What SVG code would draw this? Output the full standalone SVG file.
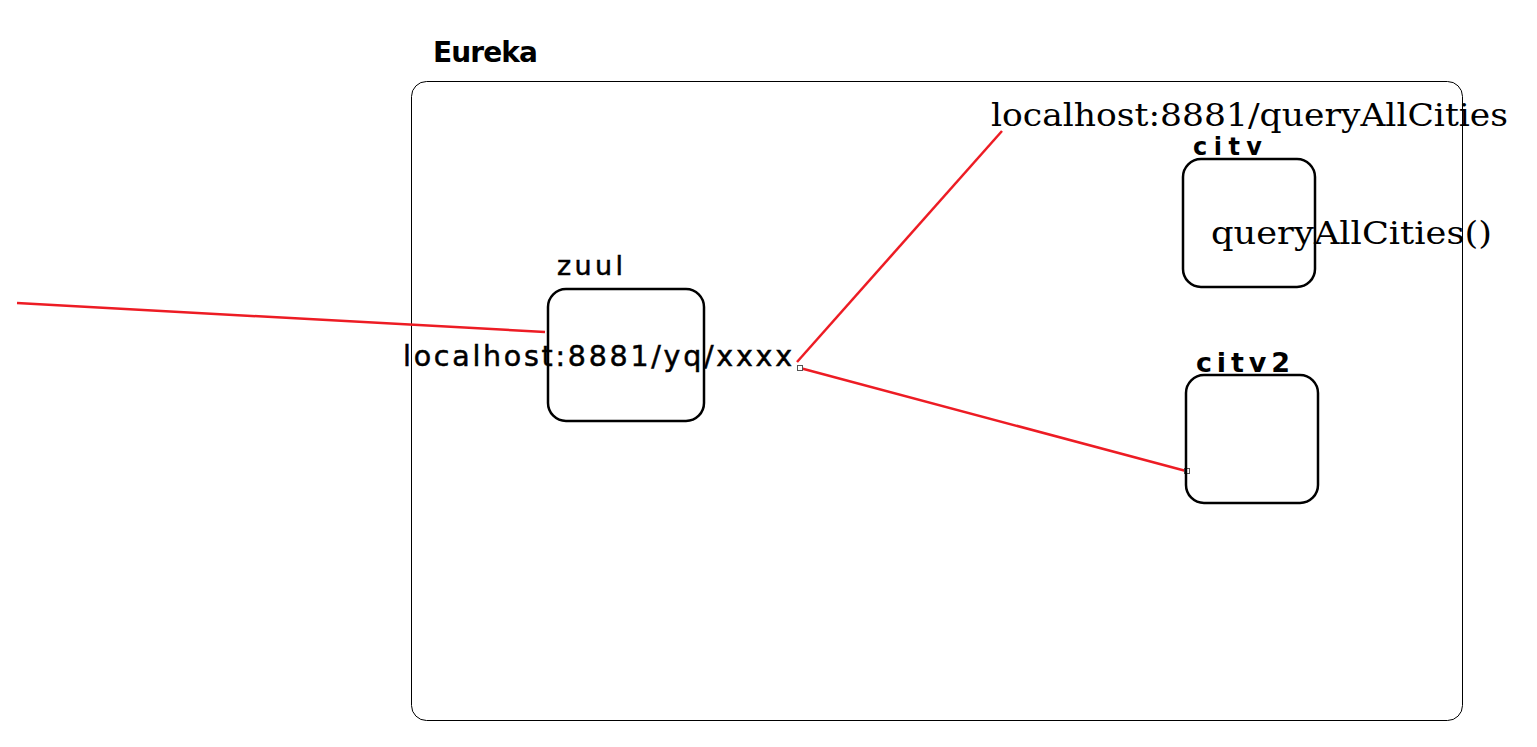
<svg xmlns="http://www.w3.org/2000/svg" width="1537" height="747" viewBox="0 0 1537 747">
<style>
.box{fill:none;stroke:#000;stroke-width:2.5}
.conn{fill:none;stroke:#ed1c24;stroke-width:2.5}
.lbl{font-family:"DejaVu Sans","Noto Sans",sans-serif;fill:#000}
.b{font-weight:bold}
.m{stroke:#000;stroke-width:0.5}
.serif{font-family:"DejaVu Serif","Liberation Serif",serif;fill:#000}
.h{fill:#fff;stroke:#555;stroke-width:1}
</style>
<rect width="1537" height="747" fill="#fff"/>
<g id="eureka">
<rect x="411.5" y="81.5" width="1051" height="639" rx="15" fill="none" stroke="#000" stroke-width="1"/>
<text class="lbl b" x="433" y="62" font-size="28" textLength="105" lengthAdjust="spacing">Eureka</text>
</g>
<g id="connectors">
<line class="conn" x1="17" y1="303" x2="545" y2="332"/>
<line class="conn" x1="797" y1="362" x2="1002" y2="131"/>
<line class="conn" x1="800" y1="368" x2="1186" y2="471"/>
<rect class="h" x="797.5" y="365.5" width="5" height="5"/>
<rect class="h" x="1184.5" y="468.5" width="5" height="5"/>
</g>
<g id="zuul">
<rect class="box" x="548" y="289" width="156" height="132" rx="18"/>
<text class="lbl m" x="557" y="275" font-size="27" textLength="66" lengthAdjust="spacing">zuul</text>
<text class="lbl m" x="403" y="366" font-size="28.5" textLength="389" lengthAdjust="spacing">localhost:8881/yq/xxxx</text>
</g>
<g id="url">
<text class="serif" x="991" y="126" font-size="32" textLength="517" lengthAdjust="spacingAndGlyphs">localhost:8881/queryAllCities</text>
</g>
<g id="city">
<rect class="box" x="1183" y="159" width="132" height="128" rx="18"/>
<text class="lbl b" x="1193" y="155" font-size="24" textLength="69" lengthAdjust="spacing">citv</text>
<text class="serif" x="1211" y="244" font-size="32" textLength="281" lengthAdjust="spacingAndGlyphs">queryAllCities()</text>
</g>
<g id="city2">
<rect class="box" x="1186" y="375" width="132" height="128" rx="18"/>
<text class="lbl b" x="1196" y="372" font-size="27" textLength="94" lengthAdjust="spacing">citv2</text>
</g>
</svg>
